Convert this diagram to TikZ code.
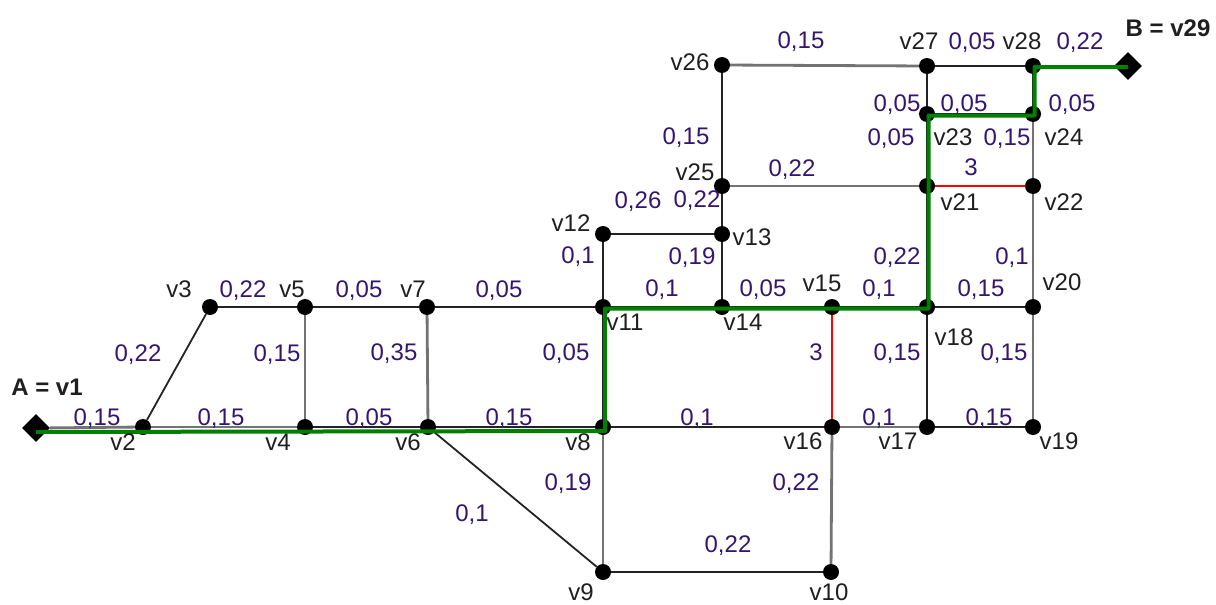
\documentclass[tikz,border=0pt]{standalone}
\usepackage{fontspec}
\setmainfont{Liberation Sans}
\usetikzlibrary{shapes.geometric}
\definecolor{labc}{RGB}{52,22,112}
\definecolor{pathg}{RGB}{0,128,0}
\definecolor{edgeg}{RGB}{115,115,115}
\definecolor{edged}{RGB}{35,35,35}
\begin{document}
\begin{tikzpicture}[x=1pt,y=-1pt,font=\fontsize{24}{28}\selectfont,
  dot/.style={circle,fill=black,inner sep=0pt,minimum size=16pt},
  term/.style={diamond,fill=black,inner sep=0pt,minimum size=28pt},
  wt/.style={text=labc,inner sep=0pt,text height=17pt,text depth=0pt},
  vl/.style={text=black!88,inner sep=0pt,text height=17pt,text depth=0pt},
  blk/.style={draw=edged,line width=1.8pt},
  gry/.style={draw=edgeg,line width=2.8pt},
  rd/.style={draw=red,line width=1.6pt},
  gp/.style={draw=pathg,line width=4pt,line join=round}]
\useasboundingbox (0,0) rectangle (1216,605);
% vertices
\node[term] (v1) at (36,428) {};
\node[dot] (v2) at (143,427) {};
\node[dot] (v3) at (210,307) {};
\node[dot] (v4) at (305,427) {};
\node[dot] (v5) at (305,307) {};
\node[dot] (v6) at (428,427) {};
\node[dot] (v7) at (427,307) {};
\node[dot] (v8) at (603,427) {};
\node[dot] (v9) at (603,572) {};
\node[dot] (v10) at (831,572) {};
\node[dot] (v11) at (603,307) {};
\node[dot] (v12) at (603,234) {};
\node[dot] (v13) at (722,234) {};
\node[dot] (v14) at (722,307) {};
\node[dot] (v15) at (832,307) {};
\node[dot] (v16) at (832,427) {};
\node[dot] (v17) at (927,427) {};
\node[dot] (v18) at (927,307) {};
\node[dot] (v19) at (1033,427) {};
\node[dot] (v20) at (1033,307) {};
\node[dot] (v21) at (927,186) {};
\node[dot] (v22) at (1033,186) {};
\node[dot] (v23) at (927,114) {};
\node[dot] (v24) at (1033,114) {};
\node[dot] (v25) at (722,186) {};
\node[dot] (v26) at (722,65) {};
\node[dot] (v27) at (927,66) {};
\node[dot] (v28) at (1033,66) {};
\node[term] (v29) at (1128,66) {};
% edges
\draw[gry] (v1) -- (v2);
\draw[blk] (v2) -- (v3);
\draw[blk] (v3) -- (v5);
\draw[gry] (v2) -- (v4);
\draw[gry] (v5) -- (v4);
\draw[blk] (v5) -- (v7);
\draw[blk] (v4) -- (v6);
\draw[gry] (v7) -- (v6);
\draw[blk] (v7) -- (v11);
\draw[blk] (v6) -- (v8);
\draw[blk] (v11) -- (v8);
\draw[blk] (v6) -- (v9);
\draw[gry] (v8) -- (v9);
\draw[blk] (v9) -- (v10);
\draw[blk] (v8) -- (v16);
\draw[gry] (v16) -- (v10);
\draw[rd] (v15) -- (v16);
\draw[blk] (v11) -- (v12);
\draw[blk] (v12) -- (v13);
\draw[blk] (v13) -- (v14);
\draw[blk] (v11) -- (v14);
\draw[blk] (v14) -- (v15);
\draw[blk] (v15) -- (v18);
\draw[gry] (v16) -- (v17);
\draw[blk] (v17) -- (v18);
\draw[blk] (v18) -- (v20);
\draw[blk] (v17) -- (v19);
\draw[gry] (v20) -- (v19);
\draw[blk] (v18) -- (v21);
\draw[gry] (v22) -- (v20);
\draw[rd] (v21) -- (v22);
\draw[gry] (v25) -- (v21);
\draw[blk] (v13) -- (v25);
\draw[blk] (v26) -- (v25);
\draw[gry] (v26) -- (v27);
\draw[blk] (v27) -- (v28);
\draw[blk] (v28) -- (v29);
\draw[blk] (v27) -- (v23);
\draw[blk] (v23) -- (v24);
\draw[blk] (v21) -- (v23);
\draw[gry] (v24) -- (v22);
\draw[blk] (v28) -- (v24);
% shortest path
\draw[gp] ([yshift=-4pt]v1.center) -- ([xshift=2pt,yshift=-4pt]v8.center)
  -- ([xshift=2pt,yshift=-1.5pt]v11.center) -- ([yshift=-1.5pt]v14.center)
  -- ([yshift=-1.5pt]v15.center) -- ([xshift=1.5pt,yshift=-1.5pt]v18.center)
  -- ([xshift=1.5pt]v21.center) -- ([xshift=1.5pt,yshift=-1.5pt]v23.center)
  -- ([xshift=1.5pt,yshift=-1.5pt]v24.center) -- ([xshift=1.5pt,yshift=-1pt]v28.center)
  -- ([yshift=-1pt]v29.center);
% vertex labels
\node[vl,font=\fontsize{24}{28}\selectfont\bfseries] (lA) at (47,387) {A = v1};
\node[vl,font=\fontsize{24}{28}\selectfont\bfseries] (lB) at (1168,28) {B = v29};
\node[vl] (n2) at (123,442) {v2};
\node[vl] (n3) at (179,289) {v3};
\node[vl] (n4) at (278,442) {v4};
\node[vl] (n5) at (292,289) {v5};
\node[vl] (n6) at (408,442) {v6};
\node[vl] (n7) at (413,289) {v7};
\node[vl] (n8) at (578,442) {v8};
\node[vl] (n9) at (581,592) {v9};
\node[vl] (n10) at (829,592) {v10};
\node[vl] (n11) at (625,322) {v11};
\node[vl] (n12) at (571,223) {v12};
\node[vl] (n13) at (752,237) {v13};
\node[vl] (n14) at (743,322) {v14};
\node[vl] (n15) at (822,283) {v15};
\node[vl] (n16) at (803,441) {v16};
\node[vl] (n17) at (898,441) {v17};
\node[vl] (n18) at (954,337) {v18};
\node[vl] (n19) at (1059,441) {v19};
\node[vl] (n20) at (1062,282) {v20};
\node[vl] (n21) at (960,202) {v21};
\node[vl] (n22) at (1064,202) {v22};
\node[vl] (n23) at (953,137) {v23};
\node[vl] (n24) at (1064,137) {v24};
\node[vl] (n25) at (695,172) {v25};
\node[vl] (n26) at (690,62) {v26};
\node[vl] (n27) at (919,41) {v27};
\node[vl] (n28) at (1022,41) {v28};
% weights
\node[wt] (w1) at (97,417) {0,15};
\node[wt] (w2) at (138,353) {0,22};
\node[wt] (w3) at (243,289) {0,22};
\node[wt] (w4) at (221,417) {0,15};
\node[wt] (w5) at (277,353) {0,15};
\node[wt] (w6) at (359,289) {0,05};
\node[wt] (w7) at (369,417) {0,05};
\node[wt] (w8) at (394,352) {0,35};
\node[wt] (w9) at (499,289) {0,05};
\node[wt] (w10) at (509,417) {0,15};
\node[wt] (w11) at (566,352) {0,05};
\node[wt] (w12) at (472,513) {0,1};
\node[wt] (w13) at (568,482) {0,19};
\node[wt] (w14) at (728,544) {0,22};
\node[wt] (w15) at (697,417) {0,1};
\node[wt] (w16) at (796,482) {0,22};
\node[wt] (w17) at (816,352) {3};
\node[wt] (w18) at (578,255) {0,1};
\node[wt] (w19) at (638,200) {0,26};
\node[wt] (w20) at (697,199) {0,22};
\node[wt] (w21) at (692,256) {0,19};
\node[wt] (w22) at (662,288) {0,1};
\node[wt] (w23) at (763,288) {0,05};
\node[wt] (w24) at (879,288) {0,1};
\node[wt] (w25) at (879,417) {0,1};
\node[wt] (w26) at (897,352) {0,15};
\node[wt] (w27) at (981,288) {0,15};
\node[wt] (w28) at (989,417) {0,15};
\node[wt] (w29) at (1004,352) {0,15};
\node[wt] (w30) at (897,256) {0,22};
\node[wt] (w31) at (1012,256) {0,1};
\node[wt] (w32) at (971,167) {3};
\node[wt] (w33) at (792,168) {0,22};
\node[wt] (w34) at (686,136) {0,15};
\node[wt] (w35) at (801,40) {0,15};
\node[wt] (w36) at (972,41) {0,05};
\node[wt] (w37) at (1080,41) {0,22};
\node[wt] (w38) at (897,103) {0,05};
\node[wt] (w39) at (964,103) {0,05};
\node[wt] (w40) at (891,137) {0,05};
\node[wt] (w41) at (1007,137) {0,15};
\node[wt] (w42) at (1072,103) {0,05};
\end{tikzpicture}
\end{document}
